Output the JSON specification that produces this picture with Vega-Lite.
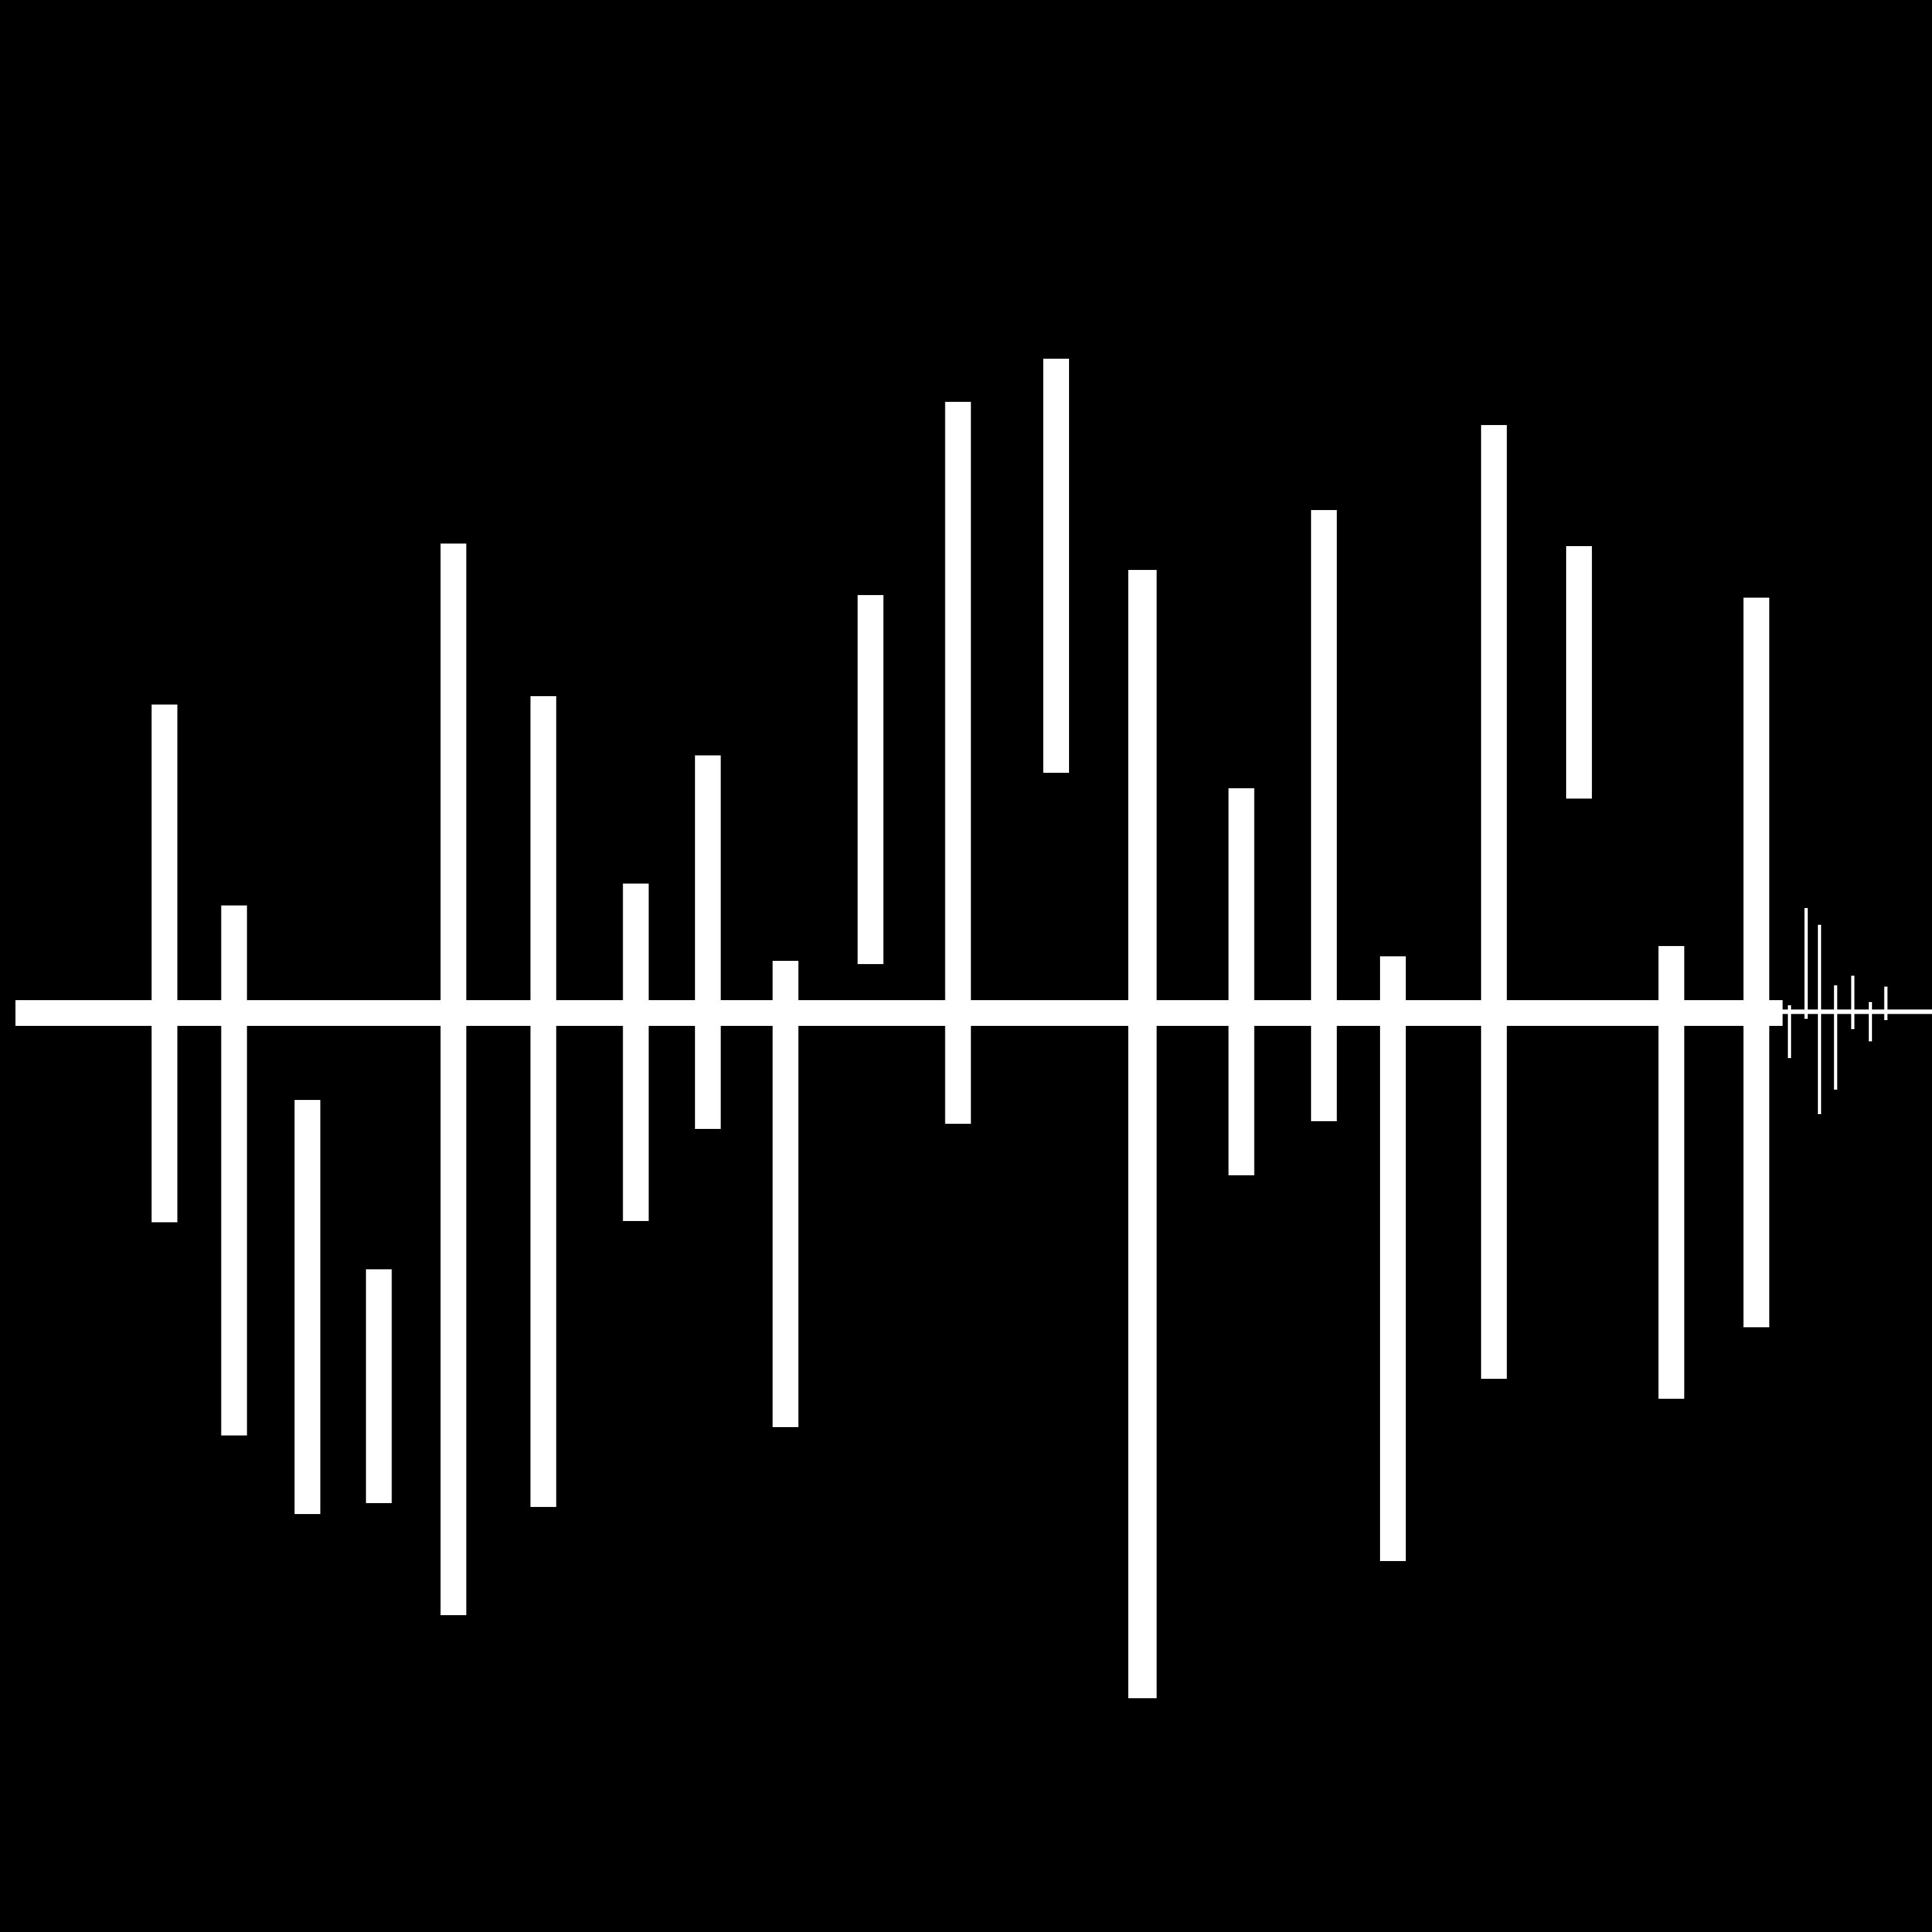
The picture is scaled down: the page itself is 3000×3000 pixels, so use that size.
{
  "$schema": "https://vega.github.io/schema/vega-lite/v6.json",
  "autosize": {"type": "none"},
  "width": 3000,
  "height": 3000,
  "padding": 0,
  "background": "#000000",
  "config": {"view": {"stroke": null}},
  "datasets": {
    "baseline": [
      {"start": 24, "end": 2768, "level": 0, "kind": "main"},
      {"start": 2768, "end": 3000, "level": 2, "kind": "tail"}
    ],
    "bars": [
      {"pos": 255.4, "high": 479, "low": -325, "kind": "bar"},
      {"pos": 363.5, "high": 167, "low": -656, "kind": "bar"},
      {"pos": 477.4, "high": -135, "low": -778, "kind": "bar"},
      {"pos": 588.3, "high": -398, "low": -761, "kind": "bar"},
      {"pos": 704.1, "high": 729, "low": -935, "kind": "bar"},
      {"pos": 843.7, "high": 492, "low": -767, "kind": "bar"},
      {"pos": 987.3, "high": 201, "low": -323, "kind": "bar"},
      {"pos": 1099.2, "high": 400, "low": -180, "kind": "bar"},
      {"pos": 1219.7, "high": 81, "low": -643, "kind": "bar"},
      {"pos": 1351.7, "high": 649, "low": 76, "kind": "bar"},
      {"pos": 1487.6, "high": 949, "low": -172, "kind": "bar"},
      {"pos": 1640, "high": 1016, "low": 373, "kind": "bar"},
      {"pos": 1774, "high": 688, "low": -1064, "kind": "wide"},
      {"pos": 1927.6, "high": 349, "low": -252, "kind": "bar"},
      {"pos": 2055.8, "high": 781, "low": -168, "kind": "bar"},
      {"pos": 2162.9, "high": 88, "low": -851, "kind": "bar"},
      {"pos": 2319.8, "high": 913, "low": -568, "kind": "bar"},
      {"pos": 2451.9, "high": 725, "low": 333, "kind": "bar"},
      {"pos": 2595.3, "high": 104, "low": -599, "kind": "bar"},
      {"pos": 2727.3, "high": 645, "low": -488, "kind": "bar"},
      {"pos": 2778.7, "high": 12, "low": -70, "kind": "tick"},
      {"pos": 2804.5, "high": 163, "low": -9, "kind": "tick"},
      {"pos": 2825.3, "high": 137, "low": -157, "kind": "tick"},
      {"pos": 2850.3, "high": 43, "low": -119, "kind": "tick"},
      {"pos": 2877, "high": 58, "low": -25, "kind": "tick"},
      {"pos": 2904.3, "high": 17, "low": -44, "kind": "tick"},
      {"pos": 2928.3, "high": 41, "low": -11, "kind": "tick"}
    ]
  },
  "encoding": {
    "x": {"type": "quantitative", "scale": {"domain": [0, 3000], "nice": false, "zero": false}, "axis": null},
    "y": {"type": "quantitative", "scale": {"domain": [-1427, 1573], "nice": false, "zero": false}, "axis": null}
  },
  "layer": [
    {
      "data": {"name": "baseline"},
      "transform": [{"filter": "datum.kind == 'main'"}],
      "mark": {"type": "rule", "color": "#ffffff", "strokeCap": "butt", "strokeWidth": 40},
      "encoding": {"x": {"field": "start"}, "x2": {"field": "end"}, "y": {"field": "level"}}
    },
    {
      "data": {"name": "baseline"},
      "transform": [{"filter": "datum.kind == 'tail'"}],
      "mark": {"type": "rule", "color": "#ffffff", "strokeCap": "butt", "strokeWidth": 7},
      "encoding": {"x": {"field": "start"}, "x2": {"field": "end"}, "y": {"field": "level"}}
    },
    {
      "data": {"name": "bars"},
      "transform": [{"filter": "datum.kind == 'bar'"}],
      "mark": {"type": "rule", "color": "#ffffff", "strokeCap": "butt", "strokeWidth": 40},
      "encoding": {"x": {"field": "pos"}, "y": {"field": "high"}, "y2": {"field": "low"}}
    },
    {
      "data": {"name": "bars"},
      "transform": [{"filter": "datum.kind == 'wide'"}],
      "mark": {"type": "rule", "color": "#ffffff", "strokeCap": "butt", "strokeWidth": 44},
      "encoding": {"x": {"field": "pos"}, "y": {"field": "high"}, "y2": {"field": "low"}}
    },
    {
      "data": {"name": "bars"},
      "transform": [{"filter": "datum.kind == 'tick'"}],
      "mark": {"type": "rule", "color": "#ffffff", "strokeCap": "butt", "strokeWidth": 5},
      "encoding": {"x": {"field": "pos"}, "y": {"field": "high"}, "y2": {"field": "low"}}
    }
  ]
}
